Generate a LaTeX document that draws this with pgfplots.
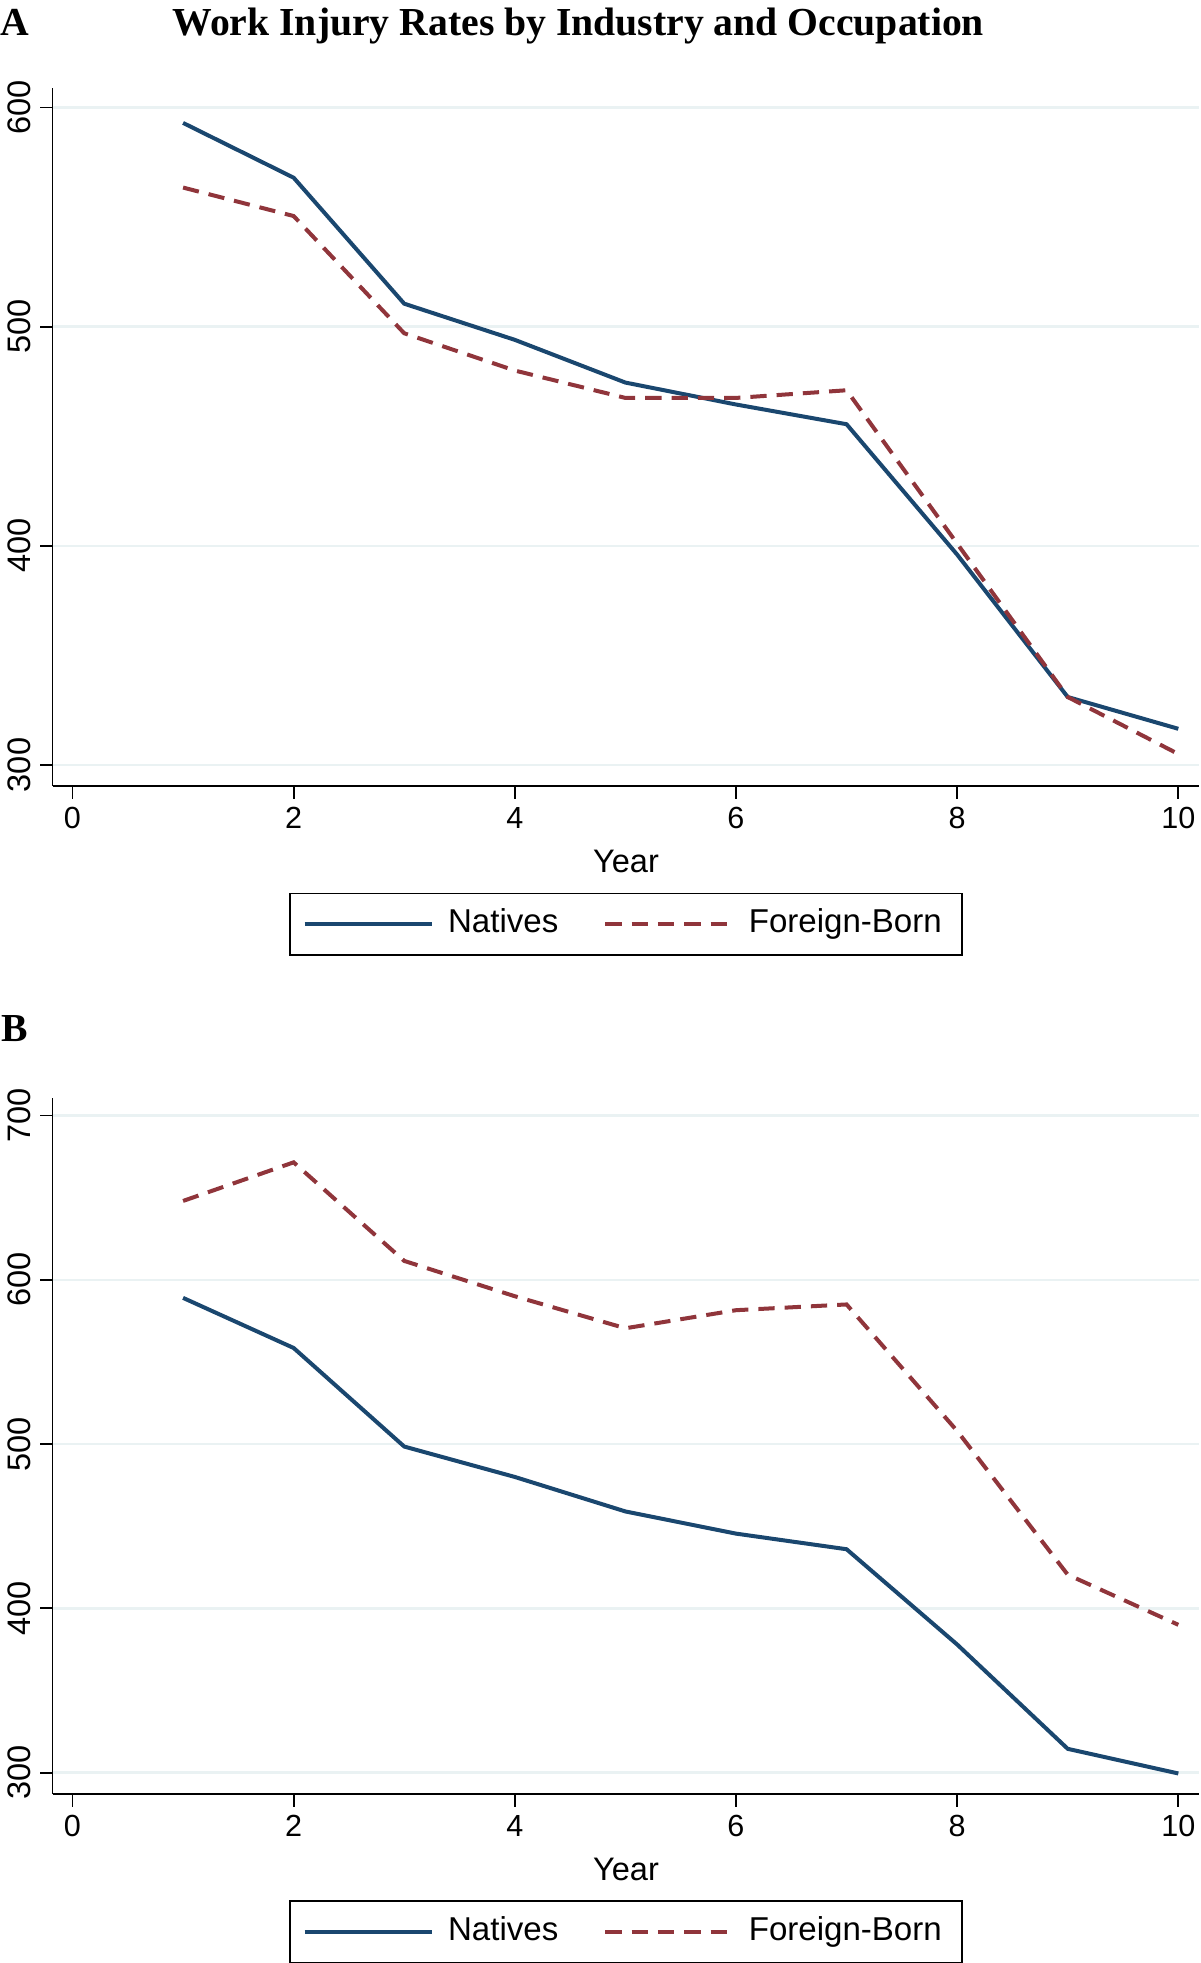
\documentclass[border=0pt]{standalone}
\usepackage{pgfplots}
\pgfplotsset{compat=1.18}
\usepackage{fontspec}
\setmainfont{Liberation Sans}
\newfontfamily\titlefont{Liberation Serif}
\definecolor{navy}{HTML}{1A476F}
\definecolor{maroon}{HTML}{90353B}
\definecolor{gridc}{HTML}{EAF2F3}
\tikzset{
  nat/.style={navy, line width=1.6bp},
  fb/.style={maroon, line width=1.6bp, dash pattern=on 6.5bp off 4bp},
}
\pgfplotsset{
  panel/.style={
    scale only axis, width=458bp,
    xmin=-0.18, xmax=10.19,
    axis x line*=bottom, axis y line*=left,
    axis line style={-, line width=0.7bp, black},
    tick align=outside, major tick length=5bp,
    tick style={black, line width=0.7bp},
    xtick={0,2,4,6,8,10},
    ymajorgrids, grid style={gridc, line width=1bp},
    /pgf/number format/assume math mode=true,
    xticklabel style={font=\fontsize{12.2bp}{14bp}\selectfont},
    yticklabel style={font=\fontsize{13bp}{14bp}\selectfont, rotate=90, anchor=south},
    xlabel={Year},
    xlabel style={font=\fontsize{13bp}{15bp}\selectfont, at={(axis description cs:0.5,0)}, anchor=center, yshift=-30bp},
    legend columns=2,
    legend style={at={(axis description cs:0.5,0)}, anchor=north, yshift=-42.5bp,
      draw=black, line width=0.7bp, font=\fontsize{13.2bp}{15bp}\selectfont,
      inner xsep=5bp, inner ysep=3.25bp,
      nodes={inner sep=3bp, text height=9.5bp, text depth=2.5bp},
      /tikz/every odd column/.append style={column sep=2.5bp},
      /tikz/every even column/.append style={column sep=15bp}},
    legend image code/.code={\draw[#1] (0bp,0bp) -- (51bp,0bp);},
  }
}
\begin{document}
\begin{tikzpicture}
\node[font=\titlefont\bfseries\fontsize{15.85bp}{18bp}\selectfont, anchor=base] at (231bp,-14bp) {Work Injury Rates by Industry and Occupation};
\node[font=\titlefont\bfseries\fontsize{15.85bp}{18bp}\selectfont, anchor=base] at (5.75bp,-14bp) {A};
\node[font=\titlefont\bfseries\fontsize{15.85bp}{18bp}\selectfont, anchor=base] at (5.75bp,-416bp) {B};

\begin{axis}[panel, height=279bp, at={(21bp,-314bp)}, anchor=south west,
  ymin=290.3, ymax=609.1, ytick={300,400,500,600}]
\addplot[nat] coordinates {(1,593) (2,568) (3,510.5) (4,494) (5,474.5) (6,464.5) (7,455.5) (8,396) (9,331) (10,316.5)};
\addlegendentry{Natives}
\addplot[fb] coordinates {(1,563.5) (2,550.5) (3,497) (4,480) (5,467.5) (6,467.5) (7,471) (8,401) (9,331) (10,305)};
\addlegendentry{Foreign-Born}
\end{axis}

\begin{axis}[panel, height=278bp, at={(21bp,-716.5bp)}, anchor=south west,
  ymin=287.0, ymax=710.7, ytick={300,400,500,600,700}]
\addplot[nat] coordinates {(1,589) (2,558.5) (3,498.5) (4,480) (5,459) (6,445.5) (7,436) (8,378) (9,314.5) (10,299.5)};
\addlegendentry{Natives}
\addplot[fb] coordinates {(1,648) (2,671.5) (3,611.5) (4,590) (5,570.5) (6,581.5) (7,585) (8,508) (9,420.5) (10,390)};
\addlegendentry{Foreign-Born}
\end{axis}
\pgfresetboundingbox
\path (0,0) rectangle (479.5bp,-784bp);
\end{tikzpicture}
\end{document}
